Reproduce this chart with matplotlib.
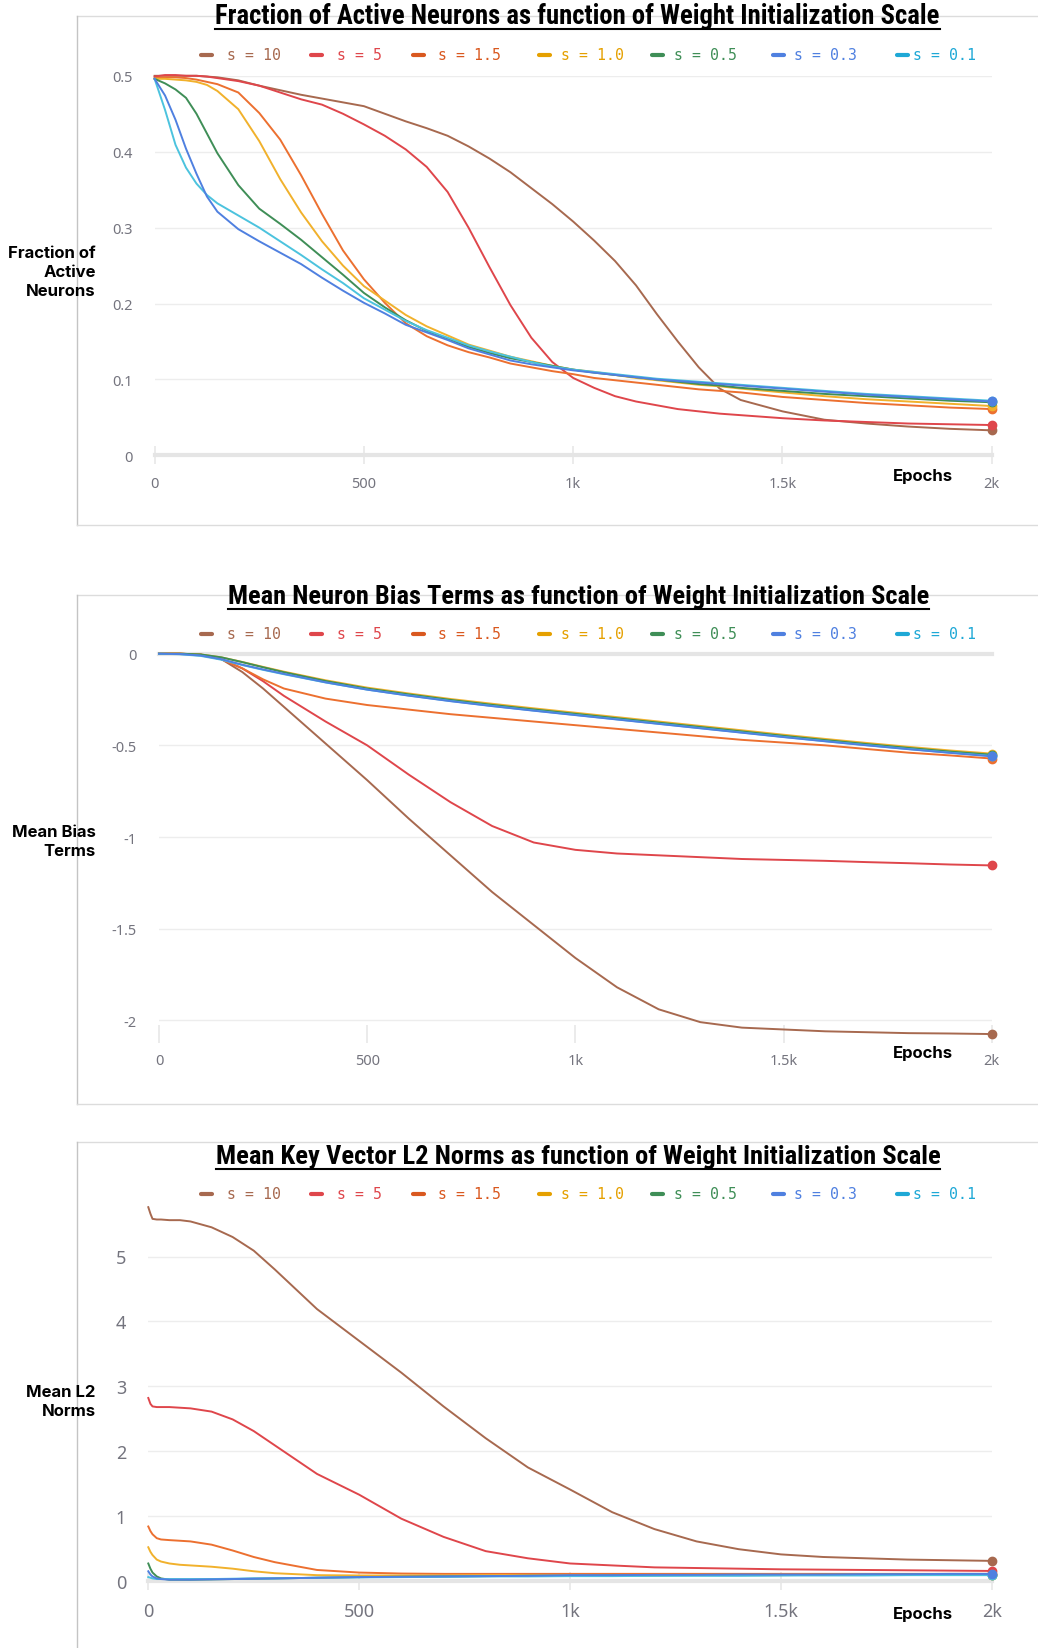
import matplotlib
matplotlib.use('Agg')
import matplotlib.pyplot as plt
from matplotlib.lines import Line2D
from matplotlib import font_manager

W, H = 1038, 1649

# ---- data ----
series_labels = ['s = 10', 's = 5', 's = 1.5', 's = 1.0', 's = 0.5', 's = 0.3', 's = 0.1']

epochs_frac = [0, 25, 50, 75, 100, 125, 150, 200, 250, 300, 350, 400, 450, 500, 550, 600,
               650, 700, 750, 800, 850, 900, 950, 1000, 1050, 1100, 1150, 1200, 1250, 1300,
               1350, 1400, 1500, 1600, 1700, 1800, 1900, 2000]
frac_s10 = [0.500, 0.500, 0.500, 0.500, 0.500, 0.499, 0.498, 0.494, 0.487, 0.481, 0.475, 0.470,
            0.465, 0.460, 0.450, 0.440, 0.431, 0.421, 0.407, 0.391, 0.373, 0.352, 0.331, 0.308,
            0.283, 0.256, 0.224, 0.186, 0.150, 0.116, 0.088, 0.073, 0.058, 0.047, 0.042, 0.038,
            0.035, 0.033]
frac_s5 = [0.499, 0.501, 0.501, 0.500, 0.500, 0.499, 0.497, 0.493, 0.487, 0.478, 0.469, 0.462,
           0.450, 0.436, 0.421, 0.403, 0.380, 0.347, 0.300, 0.248, 0.198, 0.155, 0.123, 0.102,
           0.089, 0.078, 0.071, 0.066, 0.061, 0.058, 0.055, 0.053, 0.049, 0.046, 0.044, 0.042,
           0.041, 0.040]
frac_s1_5 = [0.497, 0.498, 0.498, 0.497, 0.495, 0.492, 0.489, 0.478, 0.451, 0.416, 0.369, 0.318,
             0.270, 0.232, 0.201, 0.174, 0.157, 0.145, 0.136, 0.129, 0.121, 0.116, 0.111, 0.107,
             0.102, 0.099, 0.096, 0.093, 0.090, 0.087, 0.085, 0.083, 0.077, 0.073, 0.069, 0.066,
             0.063, 0.061]
frac_s1_0 = [0.496, 0.496, 0.495, 0.494, 0.492, 0.488, 0.480, 0.456, 0.414, 0.364, 0.320, 0.282,
             0.250, 0.223, 0.204, 0.185, 0.170, 0.158, 0.146, 0.138, 0.130, 0.124, 0.118, 0.113,
             0.110, 0.106, 0.102, 0.099, 0.096, 0.093, 0.091, 0.088, 0.083, 0.078, 0.074, 0.071,
             0.068, 0.065]
frac_s0_5 = [0.496, 0.490, 0.482, 0.471, 0.450, 0.424, 0.398, 0.356, 0.325, 0.305, 0.284, 0.261,
             0.238, 0.214, 0.195, 0.178, 0.164, 0.154, 0.143, 0.135, 0.128, 0.123, 0.118, 0.113,
             0.109, 0.106, 0.103, 0.100, 0.097, 0.094, 0.092, 0.089, 0.085, 0.081, 0.078, 0.075,
             0.072, 0.070]
frac_s0_3 = [0.496, 0.474, 0.442, 0.404, 0.371, 0.341, 0.321, 0.298, 0.282, 0.267, 0.252, 0.234,
             0.217, 0.201, 0.187, 0.172, 0.162, 0.152, 0.141, 0.133, 0.125, 0.120, 0.116, 0.112,
             0.109, 0.106, 0.103, 0.100, 0.098, 0.096, 0.094, 0.092, 0.088, 0.084, 0.080, 0.077,
             0.074, 0.071]
frac_s0_1 = [0.496, 0.455, 0.409, 0.379, 0.358, 0.343, 0.332, 0.316, 0.300, 0.282, 0.264, 0.245,
             0.227, 0.207, 0.192, 0.177, 0.165, 0.155, 0.145, 0.137, 0.130, 0.123, 0.117, 0.113,
             0.110, 0.107, 0.104, 0.101, 0.099, 0.097, 0.095, 0.093, 0.089, 0.085, 0.081, 0.078,
             0.075, 0.072]

epochs_bias = [0, 50, 100, 150, 200, 250, 300, 400, 500, 600, 700, 800, 900, 1000, 1100, 1200,
               1300, 1400, 1500, 1600, 1700, 1800, 1900, 2000]
bias_s10 = [0, 0, -0.005, -0.03, -0.10, -0.19, -0.29, -0.49, -0.69, -0.90, -1.10, -1.30, -1.48,
            -1.66, -1.82, -1.94, -2.01, -2.04, -2.05, -2.06, -2.065, -2.07, -2.072, -2.075]
bias_s5 = [0, 0, -0.005, -0.03, -0.08, -0.15, -0.23, -0.37, -0.50, -0.66, -0.81, -0.94, -1.03,
           -1.07, -1.09, -1.10, -1.11, -1.12, -1.125, -1.13, -1.137, -1.143, -1.15, -1.155]
bias_s1_5 = [0, 0, -0.005, -0.03, -0.08, -0.14, -0.19, -0.245, -0.28, -0.305, -0.33, -0.35, -0.37,
             -0.39, -0.41, -0.43, -0.45, -0.47, -0.485, -0.50, -0.52, -0.54, -0.555, -0.572]
bias_s1_0 = [0, 0, -0.004, -0.02, -0.045, -0.072, -0.098, -0.145, -0.185, -0.217, -0.247, -0.273,
             -0.298, -0.322, -0.346, -0.370, -0.394, -0.418, -0.442, -0.465, -0.487, -0.508,
             -0.528, -0.545]
bias_s0_5 = [0, 0, -0.004, -0.02, -0.046, -0.074, -0.101, -0.149, -0.19, -0.222, -0.252, -0.279,
             -0.304, -0.328, -0.352, -0.376, -0.40, -0.424, -0.448, -0.471, -0.493, -0.514,
             -0.534, -0.551]
bias_s0_3 = [0, -0.002, -0.01, -0.03, -0.06, -0.086, -0.11, -0.156, -0.196, -0.229, -0.259,
             -0.286, -0.311, -0.335, -0.359, -0.383, -0.407, -0.431, -0.455, -0.478, -0.50,
             -0.521, -0.541, -0.56]
bias_s0_1 = [0, -0.003, -0.012, -0.033, -0.062, -0.088, -0.112, -0.157, -0.196, -0.228, -0.258,
             -0.285, -0.31, -0.334, -0.358, -0.382, -0.406, -0.43, -0.454, -0.477, -0.499,
             -0.52, -0.54, -0.558]

epochs_norm = [0, 5, 10, 20, 30, 50, 75, 100, 150, 200, 250, 300, 400, 500, 600, 700, 800, 900,
               1000, 1100, 1200, 1300, 1400, 1500, 1600, 1700, 1800, 1900, 2000]
norm_s10 = [5.76, 5.66, 5.58, 5.57, 5.57, 5.56, 5.56, 5.54, 5.45, 5.30, 5.09, 4.80, 4.19, 3.70,
            3.21, 2.69, 2.20, 1.75, 1.41, 1.06, 0.80, 0.61, 0.49, 0.41, 0.37, 0.35, 0.33, 0.32,
            0.31]
norm_s5 = [2.82, 2.73, 2.69, 2.68, 2.68, 2.68, 2.67, 2.66, 2.61, 2.49, 2.31, 2.09, 1.65, 1.33,
           0.96, 0.68, 0.46, 0.35, 0.27, 0.24, 0.21, 0.20, 0.19, 0.18, 0.175, 0.17, 0.165, 0.16,
           0.155]
norm_s1_5 = [0.84, 0.77, 0.72, 0.66, 0.64, 0.63, 0.62, 0.61, 0.56, 0.47, 0.37, 0.29, 0.17, 0.13,
             0.115, 0.11, 0.11, 0.11, 0.11, 0.11, 0.11, 0.11, 0.11, 0.11, 0.11, 0.11, 0.11, 0.11,
             0.11]
norm_s1_0 = [0.52, 0.45, 0.40, 0.33, 0.30, 0.27, 0.25, 0.24, 0.22, 0.19, 0.15, 0.12, 0.09, 0.085,
             0.085, 0.085, 0.09, 0.09, 0.09, 0.09, 0.09, 0.095, 0.095, 0.095, 0.095, 0.10, 0.10,
             0.10, 0.10]
norm_s0_5 = [0.27, 0.19, 0.13, 0.07, 0.04, 0.02, 0.02, 0.02, 0.025, 0.03, 0.035, 0.04, 0.05, 0.06,
             0.065, 0.07, 0.075, 0.08, 0.08, 0.085, 0.085, 0.09, 0.09, 0.09, 0.095, 0.095, 0.10,
             0.10, 0.10]
norm_s0_3 = [0.15, 0.10, 0.07, 0.04, 0.03, 0.02, 0.02, 0.02, 0.025, 0.03, 0.035, 0.04, 0.05, 0.06,
             0.065, 0.07, 0.075, 0.08, 0.09, 0.09, 0.095, 0.095, 0.10, 0.10, 0.10, 0.105, 0.105,
             0.11, 0.11]
norm_s0_1 = [0.06, 0.05, 0.04, 0.03, 0.03, 0.03, 0.03, 0.03, 0.03, 0.035, 0.04, 0.04, 0.05, 0.055,
             0.06, 0.065, 0.07, 0.07, 0.075, 0.075, 0.08, 0.08, 0.08, 0.085, 0.085, 0.085, 0.09,
             0.09, 0.09]

# ---- styles ----
colors = ['#a7694f', '#df464b', '#ec7030', '#f1b12c', '#3f8e57', '#4f80e0', '#4cc3de']
legend_colors = ['#a7694f', '#df464b', '#d9581f', '#e5a000', '#3f8e57', '#4f80e0', '#1ea8d6']
zorders = [3, 4, 5, 6, 7, 9, 8]
tick_gray = '#74747e'
light = '#e5e5e5'

# pick a narrow bold face for the titles if one is installed
installed = {f.name for f in font_manager.fontManager.ttflist}
title_font = {'family': 'DejaVu Sans'}
for name in ['Liberation Sans Narrow', 'DejaVu Sans Condensed', 'Roboto Condensed',
             'Open Sans Condensed', 'Noto Sans Condensed', 'Arial Narrow']:
    if name in installed:
        title_font = {'family': name}
        break
else:
    for f in font_manager.fontManager.ttflist:
        if f.name == 'DejaVu Sans' and f.stretch == 'condensed' and f.weight == 'bold':
            title_font = {'family': 'DejaVu Sans', 'stretch': 'condensed'}
            break

fig = plt.figure(figsize=(W / 100, H / 100), dpi=100)


def fx(x):
    return x / W


def fy(y):
    return 1 - y / H


def make_axes(left, right, top, bottom):
    return fig.add_axes([fx(left), fy(bottom), (right - left) / W, (bottom - top) / H])


def style(ax, ylim, yticks, ylabels, fs, xpad, tickdir):
    ax.set_xlim(0, 2000)
    ax.set_ylim(*ylim)
    for sp in ax.spines.values():
        sp.set_visible(False)
    ax.set_yticks(yticks)
    ax.set_yticklabels(ylabels)
    ax.set_xticks([0, 500, 1000, 1500, 2000])
    ax.set_xticklabels(['0', '500', '1k', '1.5k', '2k'])
    ax.tick_params(axis='y', length=0, pad=16, labelsize=fs, labelcolor=tick_gray)
    ax.tick_params(axis='x', direction=tickdir, length=13, width=1.1, color=light,
                   pad=xpad, labelsize=fs, labelcolor=tick_gray)
    for lab in ax.get_xticklabels() + ax.get_yticklabels():
        lab.set_family('Noto Sans')
    ax.grid(axis='y', color='#ededed', lw=1)
    ax.set_axisbelow(True)
    ax.patch.set_alpha(0)


def draw_series(ax, xs, ys_list):
    for ys, c, z in zip(ys_list, colors, zorders):
        ax.plot(xs, ys, color=c, lw=1.4, clip_on=False, zorder=z)
        ax.plot(xs[-1], ys[-1], 'o', ms=6, color=c, clip_on=False, zorder=z)


def panel_frame(top, bottom):
    fig.add_artist(Line2D([fx(76.7), 1], [fy(top), fy(top)], color='#dcdcdc', lw=1))
    fig.add_artist(Line2D([fx(76.7), fx(76.7)], [fy(top), fy(bottom)], color='#c4c4c4', lw=1))
    if bottom < H:
        fig.add_artist(Line2D([fx(76.7), 1], [fy(bottom), fy(bottom)], color='#dcdcdc', lw=1))


def legend_row(y):
    marker_x = [201, 311, 413, 539, 652, 772.5, 897]
    text_x = [227, 336.7, 438.5, 560.7, 673.7, 793.5, 912.6]
    for mx, tx, lab, c in zip(marker_x, text_x, series_labels, legend_colors):
        fig.add_artist(Line2D([fx(mx), fx(mx + 11)], [fy(y), fy(y)], color=c, lw=3,
                              solid_capstyle='round'))
        fig.text(fx(tx), fy(y), lab, color=c, fontsize=10.7, family='DejaVu Sans Mono',
                 ha='left', va='center')


titles = []


def title(cx, cy, text, width):
    t = fig.text(fx(cx), fy(cy), text, ha='center', va='center', fontsize=16.5,
                 fontweight='bold', **title_font)
    titles.append((t, cy, width))


def side_label(y, text):
    fig.text(fx(95.7), fy(y), text, ha='right', va='center', fontsize=12, fontweight='bold',
             family='Inter', linespacing=1.35)


def epochs_label(y):
    fig.text(fx(923), fy(y), 'Epochs', ha='center', va='center', fontsize=12,
             fontweight='bold', family='Inter')


# ---- panel 1 ----
panel_frame(16.8, 526)
title(577.5, 17, 'Fraction of Active Neurons as function of Weight Initialization Scale', 720)
legend_row(56)
ax1 = make_axes(154.6, 991.8, 76.8, 456.4)
style(ax1, (0, 0.5), [0, 0.1, 0.2, 0.3, 0.4, 0.5], ['0', '0.1', '0.2', '0.3', '0.4', '0.5'],
      10.5, 8, 'inout')
ax1.axhline(0, color=light, lw=3, zorder=1, clip_on=False)
draw_series(ax1, epochs_frac, [frac_s10, frac_s5, frac_s1_5, frac_s1_0, frac_s0_5, frac_s0_3,
                               frac_s0_1])
side_label(272.7, 'Fraction of\nActive\nNeurons')
epochs_label(476)

# ---- panel 2 ----
panel_frame(596, 1105)
title(578.5, 597, 'Mean Neuron Bias Terms as function of Weight Initialization Scale', 699)
legend_row(635)
ax2 = make_axes(159, 991.8, 654.7, 1026)
style(ax2, (-2.0256, 0), [-2, -1.5, -1, -0.5, 0], ['-2', '-1.5', '-1', '-0.5', '0'],
      10.5, 7.5, 'out')
ax2.axhline(0, color=light, lw=3, zorder=1, clip_on=False)
draw_series(ax2, epochs_bias, [bias_s10, bias_s5, bias_s1_5, bias_s1_0, bias_s0_5, bias_s0_3,
                               bias_s0_1])
side_label(841.7, 'Mean Bias\nTerms')
epochs_label(1054)

# ---- panel 3 ----
panel_frame(1142.5, H + 10)
title(578, 1157, 'Mean Key Vector L2 Norms as function of Weight Initialization Scale', 722)
legend_row(1195)
ax3 = make_axes(148.3, 991.8, 1582 - 5.85 * 64.9, 1582)
style(ax3, (0, 5.85), [0, 1, 2, 3, 4, 5], ['0', '1', '2', '3', '4', '5'], 13, 8.3, 'inout')
ax3.axhline(0, color=light, lw=3, zorder=1, clip_on=False)
draw_series(ax3, epochs_norm, [norm_s10, norm_s5, norm_s1_5, norm_s1_0, norm_s0_5, norm_s0_3,
                               norm_s0_1])
side_label(1401.7, 'Mean L2\nNorms')
epochs_label(1615)

# fit title widths to the reference, then underline them
fig.canvas.draw()
renderer = fig.canvas.get_renderer()
for t, cy, width in titles:
    bb = t.get_window_extent(renderer)
    t.set_fontsize(t.get_fontsize() * width / bb.width)
fig.canvas.draw()
for t, cy, width in titles:
    bb = t.get_window_extent(renderer)
    uy = cy + 12.5
    fig.add_artist(Line2D([bb.x0 / W, bb.x1 / W], [fy(uy), fy(uy)], color='black', lw=1.5))

fig.savefig('out.png', dpi=100)
